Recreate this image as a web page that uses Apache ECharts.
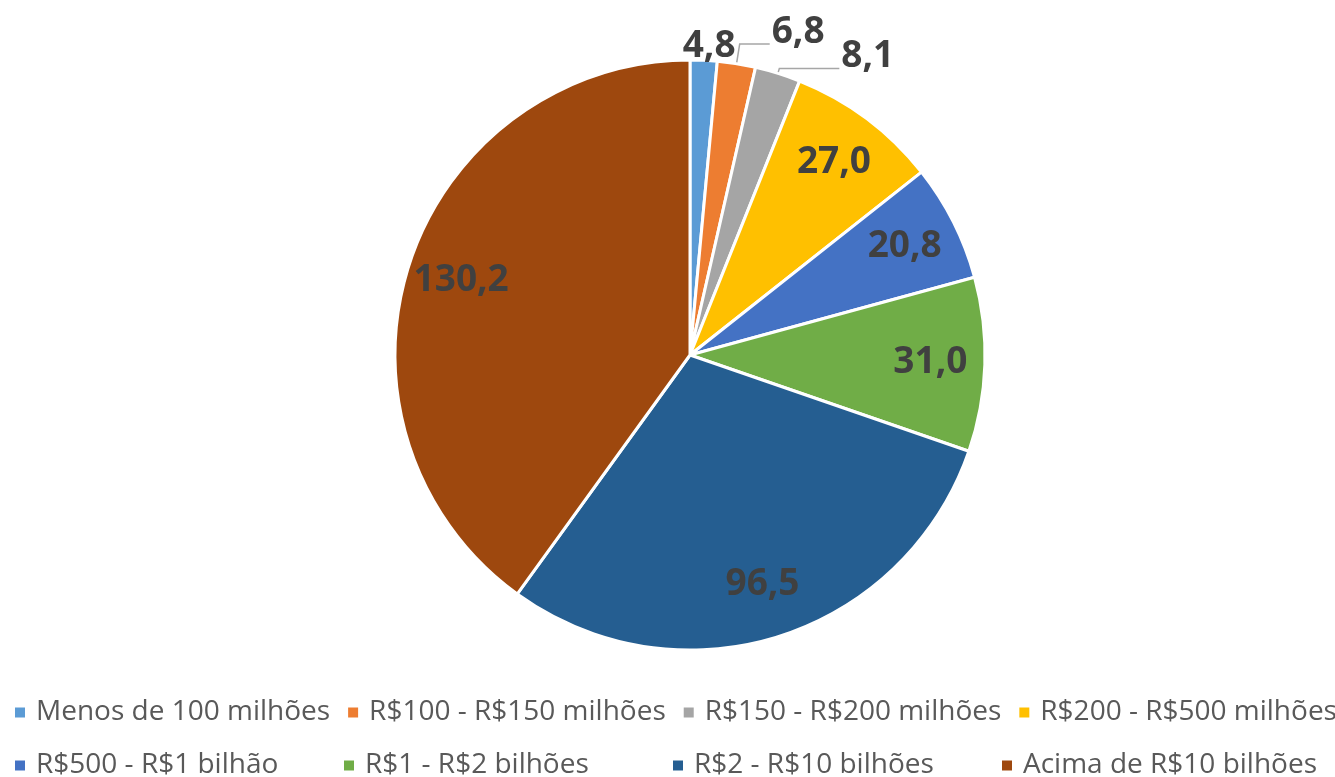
<!DOCTYPE html>
<html>
<head>
<meta charset="utf-8">
<script src="https://cdn.jsdelivr.net/npm/echarts@6/dist/echarts.min.js"></script>
<style>
html,body{margin:0;padding:0;background:#fff;}
#chart{width:1335px;height:777px;}
</style>
</head>
<body>
<div id="chart"></div>
<script>
const categories = [
  'Menos de 100 milhões',
  'R$100 - R$150 milhões',
  'R$150 - R$200 milhões',
  'R$200 - R$500 milhões',
  'R$500 - R$1 bilhão',
  'R$1 - R$2 bilhões',
  'R$2 - R$10 bilhões',
  'Acima de R$10 bilhões'
];
const values = [4.8, 6.8, 8.1, 27.0, 20.8, 31.0, 96.5, 130.2];
const colors = ['#5B9BD5', '#ED7D31', '#A5A5A5', '#FFC000', '#4472C4', '#70AD47', '#255E91', '#9E480E'];
const outsideCount = 3;
const leaderLengths = [[10, 0], [20, 30], [5, 60]];

const fmt = p => p.value.toFixed(1).replace('.', ',');
const labelFont = { fontFamily: 'Open Sans', fontWeight: 'bold', fontSize: 37, color: '#404040' };

const mainData = categories.map((name, i) => ({
  name,
  value: values[i],
  itemStyle: { color: colors[i] },
  label: { show: i < outsideCount },
  labelLine: i < outsideCount
    ? { show: i > 0, length: leaderLengths[i][0], length2: leaderLengths[i][1] }
    : { show: false }
}));
const overlayData = categories.map((name, i) => ({
  name,
  value: values[i],
  label: { show: i >= outsideCount }
}));

const chart = echarts.init(document.getElementById('chart'));
chart.setOption({
  animation: false,
  backgroundColor: '#ffffff',
  color: colors,
  legend: {
    left: 13,
    top: 694,
    width: 1325,
    padding: 0,
    itemGap: 16,
    itemWidth: 22,
    itemHeight: 12,
    icon: 'path://M0,0H1V1H0Z',
    selectedMode: false,
    data: categories.map((name, i) => ({ name, itemStyle: { color: colors[i] } })),
    textStyle: {
      fontFamily: 'Open Sans',
      fontSize: 28,
      color: '#595959',
      width: 290,
      lineHeight: 37,
      overflow: 'none'
    }
  },
  series: [
    {
      type: 'pie',
      center: [690, 355],
      radius: [0, 295],
      startAngle: 90,
      clockwise: true,
      avoidLabelOverlap: false,
      silent: true,
      itemStyle: { borderColor: '#ffffff', borderWidth: 3 },
      label: Object.assign({ position: 'outside', formatter: fmt, distanceToLabelLine: 2 }, labelFont),
      labelLine: { lineStyle: { color: '#A6A6A6', width: 1.5 } },
      labelLayout: function (p) {
        if (p.dataIndex === 0) { return { dx: -p.labelRect.width / 2 + 3, dy: -4 }; }
        if (p.dataIndex === 1) { return { dy: -11 }; }
        if (p.dataIndex === 2) { return { dy: -12 }; }
        return {};
      },
      data: mainData
    },
    {
      type: 'pie',
      center: [690, 355],
      radius: [180, 295],
      startAngle: 90,
      clockwise: true,
      avoidLabelOverlap: false,
      silent: true,
      itemStyle: { color: 'rgba(0,0,0,0)', borderWidth: 0 },
      label: Object.assign({ position: 'inside', formatter: fmt }, labelFont),
      labelLine: { show: false },
      data: overlayData
    }
  ]
});
</script>
</body>
</html>
